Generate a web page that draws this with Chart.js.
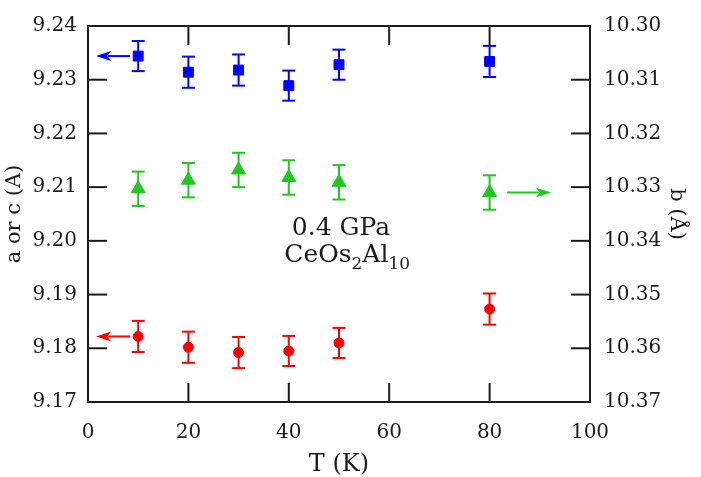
<!DOCTYPE html>
<html><head><meta charset="utf-8">
<script src="https://cdn.jsdelivr.net/npm/chart.js@4/dist/chart.umd.min.js"></script>
<style>html,body{margin:0;padding:0;background:#fff;} canvas{display:block;}</style>
</head><body>
<canvas id="c" width="701" height="477"></canvas>
<script>
// ---- data ----
const temperatures = [10, 20, 30, 40, 50, 80];
const aValues = [9.2344, 9.2314, 9.2318, 9.2289, 9.2328, 9.2334];
const aErrors = [0.0028, 0.0029, 0.0029, 0.0028, 0.0028, 0.0029];
const cValues = [9.1822, 9.1802, 9.1792, 9.1795, 9.1810, 9.1873];
const cErrors = [0.0029, 0.0029, 0.0029, 0.0028, 0.0028, 0.0029];
const bValues = [10.3303, 10.3287, 10.3268, 10.3282, 10.3291, 10.3310];
const bErrors = [0.0032, 0.0032, 0.0032, 0.0032, 0.0032, 0.0032];
const xTicks = [0, 20, 40, 60, 80, 100];
const leftTicks = [9.17, 9.18, 9.19, 9.20, 9.21, 9.22, 9.23, 9.24];
const rightTicks = [10.30, 10.31, 10.32, 10.33, 10.34, 10.35, 10.36, 10.37];
const annotationLines = ["0.4 GPa", "CeOs2Al10"];

const FONT = "'DejaVu Serif', serif";
const INK = '#1a1a1a';
const BLUE = '#0000ff', RED = '#ff0000', GREEN = '#1ec81e';

const series = [
  {vals: aValues, errs: aErrors, color: BLUE, axis: 'y', style: 'rect', r: 7},
  {vals: bValues, errs: bErrors, color: GREEN, axis: 'y2', style: 'triangle', r: 8},
  {vals: cValues, errs: cErrors, color: RED, axis: 'y', style: 'circle', r: 5}
];

const datasets = series.map(s => ({
  data: temperatures.map((t, i) => ({x: t, y: s.vals[i]})),
  yAxisID: s.axis,
  showLine: false,
  pointStyle: s.style,
  pointRadius: s.r,
  pointHoverRadius: s.r,
  backgroundColor: s.color,
  borderColor: s.color,
  borderWidth: 1
}));

function seg(ctx, x1, y1, x2, y2) {
  ctx.beginPath(); ctx.moveTo(x1, y1); ctx.lineTo(x2, y2); ctx.stroke();
}

function arrow(ctx, x1, y, x2, color) {
  const dir = Math.sign(x2 - x1);
  const head = 15, half = 5;
  ctx.save();
  ctx.strokeStyle = color; ctx.fillStyle = color; ctx.lineWidth = 2;
  seg(ctx, x1, y, x2 - dir * head * 0.8, y);
  ctx.beginPath();
  ctx.moveTo(x2, y);
  ctx.lineTo(x2 - dir * head, y - half);
  ctx.lineTo(x2 - dir * head * 0.75, y);
  ctx.lineTo(x2 - dir * head, y + half);
  ctx.closePath(); ctx.fill();
  ctx.restore();
}

const decor = {
  id: 'decor',
  beforeDatasetsDraw(chart) {
    const ctx = chart.ctx, xs = chart.scales.x;
    ctx.save();
    ctx.lineWidth = 2;
    series.forEach(s => {
      const ys = chart.scales[s.axis];
      ctx.strokeStyle = s.color;
      temperatures.forEach((t, i) => {
        const px = xs.getPixelForValue(t);
        const top = ys.getPixelForValue(s.vals[i] + s.errs[i]);
        const bot = ys.getPixelForValue(s.vals[i] - s.errs[i]);
        seg(ctx, px, top, px, bot);
        seg(ctx, px - 6.5, top, px + 6.5, top);
        seg(ctx, px - 6.5, bot, px + 6.5, bot);
      });
    });
    ctx.restore();
  },
  afterDatasetsDraw(chart) {
    const ctx = chart.ctx;
    const xs = chart.scales.x, yl = chart.scales.y, yr = chart.scales.y2;
    const L = xs.left, R = xs.right, T = yl.top, B = yl.bottom;
    const TL = 19;
    ctx.save();
    ctx.strokeStyle = INK;
    ctx.lineWidth = 2;
    xTicks.forEach(v => {
      const px = xs.getPixelForValue(v);
      seg(ctx, px, B, px, B - TL);
      seg(ctx, px, T, px, T + TL);
    });
    leftTicks.forEach(v => {
      const py = yl.getPixelForValue(v);
      seg(ctx, L, py, L + TL, py);
    });
    rightTicks.forEach(v => {
      const py = yr.getPixelForValue(v);
      seg(ctx, R, py, R - TL, py);
    });
    ctx.strokeRect(L, T, R - L, B - T);
    ctx.restore();

    arrow(ctx, xs.getPixelForValue(8.4), yl.getPixelForValue(aValues[0]), xs.getPixelForValue(1.6), BLUE);
    arrow(ctx, xs.getPixelForValue(8.4), yl.getPixelForValue(cValues[0]), xs.getPixelForValue(1.6), RED);
    arrow(ctx, xs.getPixelForValue(83.5), yr.getPixelForValue(bValues[5]), xs.getPixelForValue(92.2), GREEN);

    ctx.save();
    ctx.fillStyle = INK;
    ctx.textBaseline = 'alphabetic';
    ctx.textAlign = 'left';
    const big = "25px " + FONT, small = "17px " + FONT;
    let x = xs.getPixelForValue(40.6), y = yl.getPixelForValue(9.2011);
    ctx.font = big; ctx.fillText(annotationLines[0], x, y);
    x = xs.getPixelForValue(39.1); y = yl.getPixelForValue(9.1961);
    const parts = [["CeOs", 0], ["2", 1], ["Al", 0], ["10", 1]];
    parts.forEach(([t, sub]) => {
      ctx.font = sub ? small : big;
      ctx.fillText(t, x, sub ? y + 7 : y);
      x += ctx.measureText(t).width;
    });
    ctx.restore();
  }
};

new Chart(document.getElementById('c'), {
  type: 'scatter',
  data: {datasets},
  options: {
    responsive: false,
    animation: false,
    events: [],
    layout: {padding: {top: 15}},
    plugins: {legend: {display: false}, tooltip: {enabled: false}},
    scales: {
      x: {
        type: 'linear', position: 'bottom', min: 0, max: 100,
        afterBuildTicks: s => { s.ticks = xTicks.map(v => ({value: v})); },
        afterFit: s => { s.height = 75; },
        grid: {display: false, drawTicks: false},
        border: {display: false},
        ticks: {color: INK, font: {family: FONT, size: 20}, padding: 19, maxRotation: 0},
        title: {display: true, text: 'T (K)', color: INK, font: {family: FONT, size: 24, lineHeight: 1.0}, padding: 0}
      },
      y: {
        type: 'linear', position: 'left', min: 9.17, max: 9.24,
        afterBuildTicks: s => { s.ticks = leftTicks.map(v => ({value: v})); },
        afterFit: s => { s.width = 88; },
        grid: {display: false, drawTicks: false},
        border: {display: false},
        ticks: {color: INK, font: {family: FONT, size: 20}, padding: 11, callback: v => v.toFixed(2)},
        title: {display: true, text: 'a or c (A)', color: INK, font: {family: FONT, size: 21, lineHeight: 1.0}, padding: {top: 4, bottom: 0}}
      },
      y2: {
        type: 'linear', position: 'right', min: 10.30, max: 10.37, reverse: true,
        afterBuildTicks: s => { s.ticks = rightTicks.map(v => ({value: v})); },
        afterFit: s => { s.width = 111; },
        grid: {display: false, drawTicks: false},
        border: {display: false},
        ticks: {color: INK, font: {family: FONT, size: 20}, padding: 14, callback: v => v.toFixed(2)},
        title: {display: true, text: 'b (Å)', color: INK, font: {family: FONT, size: 21, lineHeight: 1.0}, padding: {top: 14, bottom: 0}}
      }
    }
  },
  plugins: [decor]
});
</script>
</body></html>
